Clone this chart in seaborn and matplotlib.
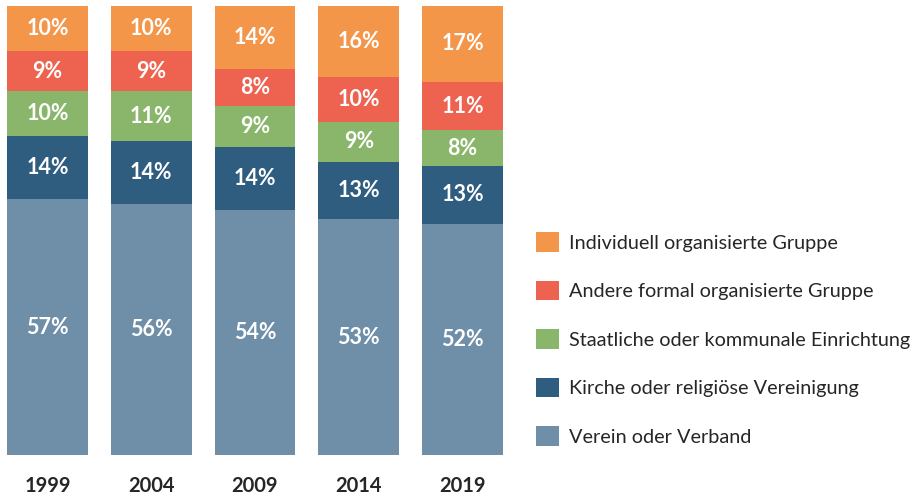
import numpy as np
import pandas as pd
import seaborn as sns
import matplotlib.pyplot as plt
from matplotlib.patches import Patch

# data (percent per year)
years = ['1999', '2004', '2009', '2014', '2019']
categories = ['Verein oder Verband',
              'Kirche oder religiöse Vereinigung',
              'Staatliche oder kommunale Einrichtung',
              'Andere formal organisierte Gruppe',
              'Individuell organisierte Gruppe']
verein = [57, 56, 54, 53, 52]
kirche = [14, 14, 14, 13, 13]
staat = [10, 11, 9, 9, 8]
andere = [9, 9, 8, 10, 11]
individuell = [10, 10, 14, 16, 17]

colors = ['#6f8ea8', '#2f5d80', '#89b66b', '#ee6250', '#f4964a']

df = pd.DataFrame({'Jahr': years, categories[0]: verein, categories[1]: kirche,
                   categories[2]: staat, categories[3]: andere, categories[4]: individuell})
vals = df[categories].to_numpy(dtype=float)
shares = vals / vals.sum(axis=1, keepdims=True) * 100
cum = np.cumsum(shares, axis=1)

sns.set_theme(style='white')
plt.rcParams['font.family'] = ['Lato', 'DejaVu Sans']

fig = plt.figure(figsize=(9.18, 4.94), dpi=100)
ax = fig.add_axes([0, 39 / 494, 510 / 918, 449 / 494])

# draw cumulative bars from top category down so each one covers the rest
for i in range(len(categories) - 1, -1, -1):
    d = pd.DataFrame({'Jahr': years, 'wert': cum[:, i]})
    sns.barplot(data=d, x='Jahr', y='wert', color=colors[i], width=0.78,
                saturation=1, edgecolor='none', linewidth=0, ax=ax)

for j in range(len(years)):
    for i in range(len(categories)):
        lo = cum[j, i - 1] if i > 0 else 0
        ax.text(j, (lo + cum[j, i]) / 2, f'{int(vals[j, i])}%', ha='center', va='center',
                color='white', fontsize=15.5, fontweight='bold')

ax.set_xlim(-0.458, 4.458)
ax.set_ylim(0, 100)
ax.set_xlabel('')
ax.set_ylabel('')
ax.set_yticks([])
ax.tick_params(axis='x', length=0, pad=15, labelsize=14.5)
for t in ax.get_xticklabels():
    t.set_fontweight('bold')
sns.despine(ax=ax, left=True, bottom=True)

handles = [Patch(facecolor=c, edgecolor='none') for c in colors[::-1]]
fig.legend(handles, categories[::-1], loc='center left', bbox_to_anchor=(536 / 918, 1 - 339 / 494),
           frameon=False, fontsize=14.3, handlelength=1.15, handleheight=1.15,
           handletextpad=0.5, labelspacing=1.45, borderpad=0, borderaxespad=0)

fig.savefig('out.png', dpi=100)
